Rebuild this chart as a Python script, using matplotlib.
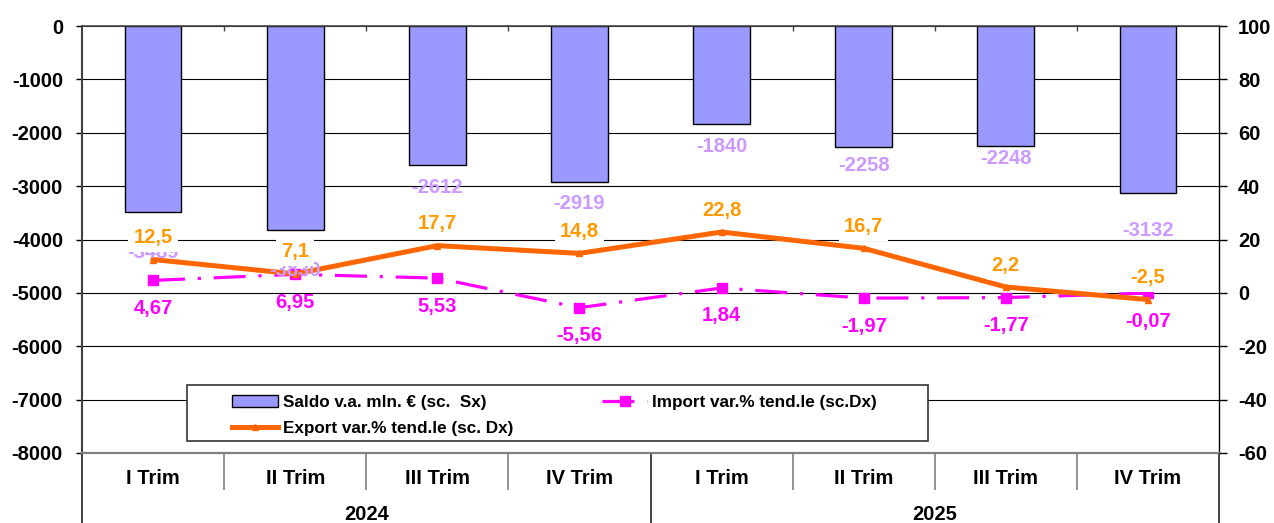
import matplotlib
matplotlib.use('Agg')
import matplotlib.pyplot as plt
from matplotlib.patches import Rectangle
from matplotlib.transforms import blended_transform_factory

plt.rcParams['font.family'] = ['Liberation Sans', 'DejaVu Sans']
plt.rcParams['font.weight'] = 'bold'
plt.rcParams['axes.unicode_minus'] = False

# ---- data ----
categories = ["I Trim", "II Trim", "III Trim", "IV Trim",
              "I Trim", "II Trim", "III Trim", "IV Trim"]
years = ["2024", "2025"]
saldo = [-3489, -3830, -2612, -2919, -1840, -2258, -2248, -3132]
export_var = [12.5, 7.1, 17.7, 14.8, 22.8, 16.7, 2.2, -2.5]
import_var = [4.67, 6.95, 5.53, -5.56, 1.84, -1.97, -1.77, -0.07]

legend_labels = ["Saldo v.a. mln. € (sc.  Sx)",
                 "Export var.% tend.le (sc. Dx)",
                 "Import var.% tend.le (sc.Dx)"]

# label placement (pixels below the bar end) - style only
saldo_label_dy_px = [40, 40, 22, 22, 22, 19, 13, 37]

# ---- styles ----
BAR_C = '#9999FF'
EXP_C = '#FF6600'
EXP_LBL = '#FF9900'
IMP_C = '#FF00FF'
SAL_LBL = '#CC99FF'
PX = 0.72  # points per pixel at 100 dpi
FS = 14.5

W, H = 1274, 523
fig = plt.figure(figsize=(W / 100, H / 100), dpi=100)
L, R, T, B = 82, 1219, 26, 453
ax = fig.add_axes([L / W, 1 - B / H, (R - L) / W, (B - T) / H])
ax2 = ax.twinx()

x = list(range(len(categories)))

# bars
ax.bar(x, saldo, width=0.4, color=BAR_C, edgecolor='black', linewidth=1.0, zorder=2)
ax.set_xlim(-0.5, len(categories) - 0.5)
ax.set_ylim(-8000, 0)
ax.set_yticks(range(-8000, 1, 1000))
ax.set_yticklabels([f"{v}" for v in range(-8000, 1, 1000)])
ax.grid(axis='y', color='black', linewidth=0.8)
ax.set_axisbelow(True)

# lines
imp_line, = ax2.plot(x, import_var, color=IMP_C, linewidth=2.3,
                     linestyle=(0, (10, 4, 1, 4)), marker='s', markersize=7.5,
                     zorder=3)
exp_line, = ax2.plot(x, export_var, color=EXP_C, linewidth=3.6,
                     marker='^', markersize=5, zorder=4)
ax2.set_ylim(-60, 100)
ax2.set_yticks(range(-60, 101, 20))
ax2.set_yticklabels([f"{v}" for v in range(-60, 101, 20)])

# spines / ticks
for s in ['top', 'right', 'left', 'bottom']:
    ax2.spines[s].set_visible(False)
ax.spines['right'].set_visible(True)
ax.spines['right'].set_color('black')
ax.spines['right'].set_linewidth(1.0)
ax.spines['top'].set_color('#444444')
ax.spines['top'].set_linewidth(1.2)
ax.spines['left'].set_color('#404040')
ax.spines['left'].set_linewidth(1.5)
ax.spines['bottom'].set_color('#808080')
ax.spines['bottom'].set_linewidth(1.6)

ax.tick_params(axis='y', direction='out', length=6 * PX, width=1.0, pad=13 * PX,
               labelsize=FS)
ax2.tick_params(axis='y', direction='out', length=8 * PX, width=1.0, pad=11 * PX,
                labelsize=FS)

bounds_major = [-0.5, 3.5, 7.5]
bounds_minor = [0.5, 1.5, 2.5, 4.5, 5.5, 6.5]
ax.set_xticks(bounds_major)
ax.set_xticks(bounds_minor, minor=True)
ax.tick_params(axis='x', which='major', length=70 * PX, width=1.4, color='#404040',
               labelbottom=False)
ax.tick_params(axis='x', which='minor', length=37 * PX, width=1.2, color='#808080',
               labelbottom=False)
sec = ax.secondary_xaxis('top')
sec.set_xticks(bounds_minor)
sec.tick_params(direction='in', length=5 * PX, width=1.0, color='#444444',
                labeltop=False)
sec.spines['top'].set_visible(False)

# category and year labels
tr = blended_transform_factory(ax.transData, ax.transAxes)
for i, c in enumerate(categories):
    ax.text(i, -25 / (B - T), c, transform=tr, ha='center', va='center',
            fontsize=FS, fontweight='bold')
for j, y in enumerate(years):
    ax.text(1.5 + 4 * j, -62 / (B - T), y, transform=tr, ha='center',
            va='center', fontsize=FS, fontweight='bold')

# data labels
for i, v in enumerate(saldo):
    ax2.annotate(f"{v}", xy=(i, v), xycoords=ax.transData,
                 xytext=(0, -saldo_label_dy_px[i] * PX), textcoords='offset points',
                 ha='center', va='center', fontsize=FS, fontweight='bold',
                 color=SAL_LBL, zorder=6, annotation_clip=False)
for i, v in enumerate(import_var):
    ax2.annotate(f"{v:.2f}".replace('.', ','), xy=(i, v),
                 xytext=(0, -28 * PX), textcoords='offset points',
                 ha='center', va='center', fontsize=FS, fontweight='bold',
                 color=IMP_C, zorder=6)
for i, v in enumerate(export_var):
    ax2.annotate(f"{v:.1f}".replace('.', ','), xy=(i, v),
                 xytext=(0, 22 * PX), textcoords='offset points',
                 ha='center', va='center', fontsize=FS, fontweight='bold',
                 color=EXP_LBL, zorder=7,
                 bbox=dict(boxstyle='square,pad=0.25', fc='white', ec='none'))

# legend frame + legend
LX0, LX1, LY0, LY1 = 187, 928, 385, 441
frame = Rectangle((LX0 / W, 1 - LY1 / H), (LX1 - LX0) / W, (LY1 - LY0) / H,
                  transform=fig.transFigure, facecolor='white',
                  edgecolor='#333333', linewidth=1.2, zorder=10)
fig.add_artist(frame)
bar_handle = Rectangle((0, 0), 1, 1, facecolor=BAR_C, edgecolor='black', linewidth=1.0)
leg = fig.legend([bar_handle, exp_line, imp_line], legend_labels,
                 loc='upper left', bbox_to_anchor=(217 / W, 1 - 380 / H),
                 ncol=2, frameon=False, fontsize=12.3, handlelength=2.65,
                 handletextpad=0.3, columnspacing=5.2, labelspacing=0.63,
                 borderpad=0.4, numpoints=1)
leg.set_zorder(11)
for t in leg.get_texts():
    t.set_fontweight('bold')

fig.savefig('out.png', dpi=100)
